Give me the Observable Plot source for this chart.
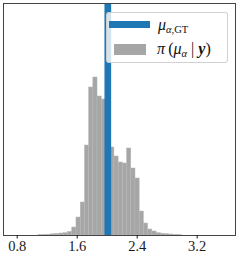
<!DOCTYPE html>
<html><head><meta charset="utf-8">
<script src="https://cdn.jsdelivr.net/npm/d3@7"></script>
<script src="https://cdn.jsdelivr.net/npm/@observablehq/plot@0.6"></script>
<style>
body{margin:0;background:#fff;}
#wrap{position:relative;width:241px;height:257px;overflow:hidden;}
#wrap svg{position:absolute;left:0;top:0;}
.leg{position:absolute;left:106px;top:12px;width:122px;height:51px;background:rgba(255,255,255,0.8);border:1px solid rgba(204,204,204,0.9);border-radius:3px;box-sizing:border-box;}
.h1{position:absolute;left:2px;top:8px;width:41px;height:6.5px;background:#1f77b4;}
.h2{position:absolute;left:7px;top:31px;width:32px;height:11px;background:#a6a6a6;}
.lab{position:absolute;font-family:"Liberation Serif",serif;font-size:16px;line-height:16px;color:#111;white-space:nowrap;}
.lab i{font-style:italic;}
.lab sub{font-size:10.5px;vertical-align:-3px;line-height:0;}
</style></head>
<body>
<div id="wrap"></div>
<script>
// histogram bin left edges (value units), constant bin width
const binStart = [1.085,1.141,1.197,1.253,1.309,1.366,1.422,1.478,1.534,1.590,1.647,1.703,1.759,1.815,1.871,1.928,1.984,2.040,2.096,2.152,2.209,2.265,2.321,2.377,2.433,2.490,2.546,2.602,2.658,2.714,2.771,2.827,2.883,2.939];
const binWidth = 0.0562;
const counts = [3,5,8,12,15,20,23,35,80,180,330,900,1480,1580,1390,1360,1150,880,790,730,720,870,670,570,240,120,60,40,23,18,14,10,6,3];
const muGT = [2.008];
const xTicks = [0.8,1.6,2.4,3.2];

const bins = binStart.map((s,i)=>({x1:s, x2:s+binWidth, y:counts[i]}));

const svg = Plot.plot({
  width:241, height:257,
  marginLeft:3, marginRight:6, marginTop:3, marginBottom:22,
  style:{fontFamily:"Liberation Serif, serif", color:"#1a1a1a", background:"#fff"},
  x:{domain:[0.617,3.711], label:null, axis:null},
  y:{domain:[0,2320], axis:null},
  marks:[
    Plot.rectY(bins,{x1:"x1",x2:"x2",y:"y",fill:"#a6a6a6",stroke:"#b8b8b8",strokeWidth:0.5,inset:0}),
    Plot.ruleX(muGT,{stroke:"#1f77b4",strokeWidth:6.7}),
    Plot.frame({stroke:"#444",strokeWidth:1}),
    Plot.axisX({ticks:xTicks, tickFormat:d=>d.toFixed(1), tickSize:3.5, tickPadding:2, fontSize:14.5, fontFamily:"Liberation Serif", label:null})
  ]
});
const wrap = document.getElementById("wrap");
wrap.appendChild(svg);
const leg = document.createElement("div");
leg.className="leg";
leg.innerHTML = `<div class="h1"></div><div class="h2"></div>
<div class="lab" style="left:51px;top:4px;"><i>μ</i><sub><i>α</i>,GT</sub></div>
<div class="lab" style="left:50px;top:28px;"><i>π</i>&#8201;(<i>μ</i><sub><i>α</i></sub> | <b><i>y</i></b>)</div>`;
wrap.appendChild(leg);
</script>
</body></html>
